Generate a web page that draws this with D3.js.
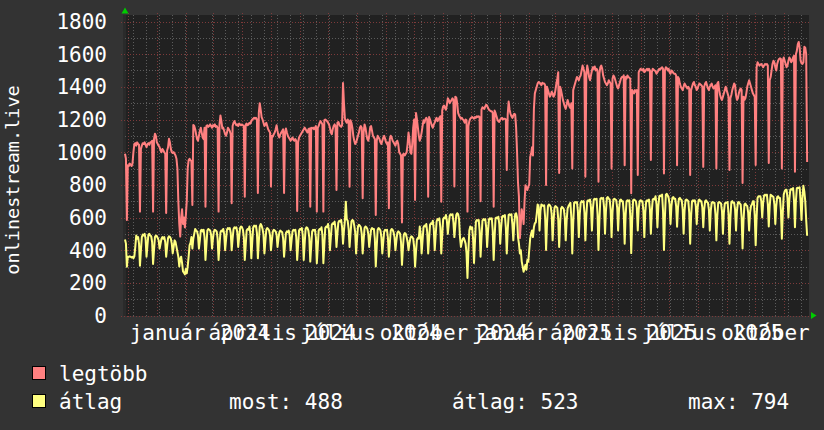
<!DOCTYPE html>
<html><head><meta charset="utf-8">
<script src="https://cdn.jsdelivr.net/npm/d3@7/dist/d3.min.js"></script>
<style>html,body{margin:0;padding:0;background:#333333;}svg{display:block;}</style>
</head><body>
<svg id="chart" width="824" height="430"></svg>
<script>
// ---- data (one value per day, starting at startDay) ----
const startDay = "2023-11-27T12:00:00";
const endDay = "2025-11-27T12:00:00";
const seriesNames = ["legtöbb", "átlag"];
const seriesColors = ["#ff8080", "#ffff80"];
const maxValues = [
990,960,585,920,915,930,925,915,930,1000,1050,1055,1040,1060,
1050,1045,636,1020,1040,1055,1050,1060,1045,1030,1050,1055,1045,1060,
1060,1070,636,1080,1113,1100,1060,1050,1040,1030,1010,1000,1020,1010,
1000,990,627,1010,1030,1082,1060,1020,1000,995,1000,990,980,960,
900,700,560,483,600,650,560,600,540,610,700,900,950,960,
950,945,677,1166,1160,1140,1110,1080,1070,1100,1130,1150,1120,1090,
1080,1150,666,1160,1165,1155,1160,1170,1160,1150,1165,1160,1170,1155,
1160,1150,636,1170,1225,1190,1145,1150,1130,1110,1100,1120,1150,1140,
1130,1110,687,1160,1180,1190,1175,1165,1170,1160,1175,1170,1165,1170,
1165,1160,727,1170,1175,1165,1170,1180,1175,1190,1200,1205,1210,1205,
1210,1200,750,1240,1300,1260,1215,1200,1180,1160,1170,1180,1160,1140,
1130,1120,790,1100,1095,1110,1120,1140,1165,1130,1100,1090,1110,1120,
1130,1140,750,1120,1145,1120,1100,1090,1080,1070,1080,1090,1075,1070,
1080,1070,640,1060,1090,1100,1110,1120,1130,1140,1150,1140,1130,1120,
1140,1145,666,1150,1145,1150,1140,1150,1160,636,1150,1160,1180,1190,
1180,1170,636,1195,1200,1195,1190,1180,1170,1150,1120,1110,1140,1160,
1170,1160,768,1180,1185,1170,1160,1155,1165,1423,1300,1205,1190,1180,
1200,1190,789,1195,1180,1150,1100,1070,1050,1060,1080,1100,1120,1150,
1160,1150,718,1120,1170,1150,1110,1080,1070,1100,1150,1160,1130,1100,
1090,1080,615,1070,1100,1090,1080,1060,1050,1070,1090,1100,1080,1060,
1050,1060,656,1080,1100,1090,1070,1060,1050,1040,1060,1070,1050,1000,
990,980,569,985,990,980,990,1000,1050,1120,1080,1000,990,1050,
1150,1200,707,1240,1200,1150,1100,1070,1090,1120,1160,1195,1180,1200,
1210,1200,727,1215,1200,1180,1160,1150,1170,1180,1200,1210,1190,1200,
1210,1220,697,1255,1280,1285,1270,1260,1290,1330,1320,1300,1310,1320,
1330,1320,790,1340,1335,1300,1240,1225,1215,1205,1210,1200,1195,1180,
1200,1195,636,1160,1190,1205,1210,1215,1210,1205,1215,1210,1220,1215,
1220,1215,700,1260,1275,1270,1265,1280,1290,1285,1270,1260,1255,1250,
1250,1240,666,1255,1240,1220,1200,1190,1185,1200,1205,1210,1200,1205,
1205,1200,891,1230,1310,1260,1235,1220,1210,1225,1235,1230,1150,1000,
816,726,474,560,650,620,560,700,798,780,768,790,800,970,
990,1030,980,1266,1360,1380,1400,1420,1430,1425,1420,1410,1425,1420,
1420,1410,799,1400,1380,1360,1340,1350,1370,1360,1340,1350,1380,1420,
1450,1490,872,1400,1380,1350,1320,1300,1280,1265,1290,1320,1300,1280,
1270,1300,900,1380,1400,1420,1440,1460,1450,1440,1460,1470,1500,1530,
1510,1490,850,1470,1530,1500,1460,1440,1470,1500,1520,1510,1525,1500,
1510,1500,819,1480,1520,1530,1510,1470,1450,1430,1420,1410,1420,1440,
1430,1420,900,1450,1470,1460,1440,1420,1400,1390,1410,1430,1450,1460,
1460,1470,920,1460,1450,1470,1460,1455,1450,748,1380,1370,1360,1380,
1370,1380,860,1490,1500,1510,1505,1500,1510,1490,1495,1505,1510,1500,
1510,1500,952,1490,1510,1505,1500,1495,1480,1490,1500,1510,1505,1515,
1520,1510,870,1500,1520,1515,1500,1510,1490,1480,1500,1495,1485,1480,
1480,1470,920,1460,1450,1420,1400,1390,1380,1400,1420,1410,1400,1390,
1400,1390,860,1380,1400,1420,1430,1410,1400,1380,1390,1410,1420,1415,
1410,1400,910,1400,1420,1430,1410,1390,1380,1400,1410,1420,1400,1390,
1400,1410,900,1420,1430,1380,1350,1330,1320,1340,1360,1380,1400,1380,
1360,1340,891,1330,1350,1380,1400,1420,1410,1350,1320,1330,1360,1380,
1390,1380,811,1340,1320,1330,1360,1400,1420,1440,1420,1400,1380,1360,
1350,1340,921,1520,1550,1540,1530,1535,1540,1530,1520,1530,1540,1535,
1540,1530,933,1440,1460,1500,1540,1560,1550,1520,1500,1540,1560,1570,
1575,1570,900,1560,1580,1560,1540,1520,1530,1560,1580,1570,1550,1560,
1580,1590,880,1600,1620,1660,1675,1640,1560,1545,1540,1550,1645,1640,
1600,940
];
const avgValues = [
465,440,299,360,358,362,360, 355,360,350,362,420,490,470,
480,440,305,400,480,495,490, 500,470,360,430,495,500,490,
485,450,315,400,480,490,485, 475,460,410,440,470,480,470,
480,450,360,420,475,485,480, 470,440,380,420,460,450,420,
390,360,300,345,360,320,270, 262,252,285,258,300,360,430,
445,480,410,470,500,530,520, 515,490,410,460,520,525,515,
525,480,340,430,520,530,525, 520,495,410,470,515,525,520,
515,470,340,430,510,520,515, 530,500,400,465,525,535,530,
535,505,400,470,530,540,535, 540,510,420,480,535,545,540,
525,480,340,430,520,530,525, 545,500,350,450,540,550,545,
550,505,350,450,545,560,550, 530,495,380,455,525,535,530,
520,490,400,460,515,525,520, 515,495,420,470,510,520,515,
510,470,360,435,505,515,510, 520,490,400,460,515,525,520,
525,480,340,430,520,530,525, 535,490,340,440,530,540,535,
520,475,330,425,515,525,520, 525,480,320,420,520,530,525,
540,490,320,430,535,545,540, 560,520,400,480,555,565,560,
575,530,420,500,570,580,575, 585,540,440,520,580,697,590,
580,530,420,500,575,585,580, 550,510,380,470,545,555,550,
540,500,380,460,535,545,540, 530,500,420,475,525,535,530,
530,470,300,420,525,535,530, 520,480,380,450,515,525,520,
525,475,360,440,520,530,525, 510,480,400,455,505,515,510,
500,450,310,410,495,505,500, 480,450,400,440,475,485,480,
470,420,299,390,465,475,470, 545,500,380,460,540,550,545,
560,510,380,470,555,565,560, 580,530,400,490,575,590,585,
595,540,380,490,590,600,595, 615,580,500,560,610,620,615,
620,570,480,550,615,626,620, 590,480,420,450,470,475,460,
440,380,230,400,520,545,530, 540,470,321,450,575,585,580,
585,520,360,480,580,590,585, 590,540,420,520,590,595,590,
595,520,340,480,595,600,595, 605,560,440,540,605,610,605,
615,540,380,520,615,620,615, 620,560,460,560,620,626,600,
480,440,380,400,330,300,268, 290,310,280,340,330,400,470,
500,520,480,540,565,570,620, 680,670,520,640,680,675,670,
675,600,401,560,670,680,675, 665,620,460,580,660,670,665,
660,590,420,560,655,665,660, 650,600,460,580,655,670,680,
690,600,380,560,690,695,690, 695,640,480,620,690,700,695,
700,630,460,610,700,705,700, 710,660,520,650,710,715,710,
715,620,401,580,715,720,715, 720,660,500,640,720,725,715,
710,650,480,630,710,715,710, 705,660,520,650,705,710,700,
700,630,440,610,700,705,700, 705,610,382,580,705,710,705,
700,660,520,650,700,705,700, 700,640,480,630,700,705,700,
710,650,500,640,710,715,710, 730,680,540,670,730,735,730,
740,640,401,600,740,745,735, 720,680,560,670,720,725,715,
715,670,544,660,715,720,710, 705,650,500,640,705,710,705,
700,630,440,610,700,705,700, 705,670,560,660,705,710,700,
700,660,540,650,700,705,695, 690,650,520,640,690,695,690,
690,620,460,610,690,695,690, 685,640,500,630,685,690,690,
695,620,440,600,695,700,690, 690,650,520,640,690,695,685,
680,600,410,580,680,685,675, 670,630,520,630,670,680,700,
700,610,430,600,720,730,730, 730,700,600,690,735,740,735,
740,680,545,670,740,735,730, 725,680,560,670,725,730,720,
720,640,470,630,740,760,770, 770,720,600,710,770,775,770,
780,700,540,700,780,782,780, 785,700,585,720,794,760,700,
585,488
];
const yTickValues = [0,200,400,600,800,1000,1200,1400,1600,1800];
const monthLabelStarts = ["2024-01-01","2024-04-01","2024-07-01","2024-10-01","2025-01-01","2025-04-01","2025-07-01","2025-10-01"];
const monthLabelNames = ["január","április","július","október","január","április","július","október"];
const yearLabelStarts = ["2024-04-01","2024-07-01","2024-10-01","2025-01-01","2025-04-01","2025-07-01","2025-10-01"];
const yearLabelTexts = ["2024","2024","2024","2024","2025","2025","2025"];
const statLabels = ["most: 488","átlag: 523","max: 794"];
const yAxisTitle = "onlinestream.live";

// ---- drawing ----
const W = 824, H = 430;
const pLeft = 125, pRight = 809, pTop = 15, pBottom = 316;
const FONT = "'DejaVu Sans Mono', monospace";
const svg = d3.select("#chart");
const t0 = new Date(startDay), t1 = new Date(endDay);
const x = d3.scaleTime().domain([t0, t1]).range([pLeft, pRight]);
const y = d3.scaleLinear().domain([0, 1800]).range([315.5, 21.5]);
const dates = maxValues.map((_, i) => d3.timeDay.offset(t0, i));

svg.append("rect").attr("width", W).attr("height", H).attr("fill", "#333333");
svg.append("rect").attr("x", pLeft).attr("y", pTop).attr("width", pRight - pLeft).attr("height", pBottom - pTop).attr("fill", "#212121");
svg.append("rect").attr("x", 123).attr("y", pTop).attr("width", 3).attr("height", pBottom - pTop).attr("fill", "#2a2a2a");

const grid = svg.append("g").attr("shape-rendering", "crispEdges");
d3.range(100, 1800, 200).forEach(v => {
  const py = Math.round(y(v)) + 0.5;
  grid.append("line").attr("x1", pLeft).attr("x2", pRight).attr("y1", py).attr("y2", py)
    .attr("stroke", "#5c5c5c").attr("stroke-dasharray", "1,2");
});
const minorV = [];
for (let t = new Date(2023, 11, 6); t < t1; t = d3.timeDay.offset(t, 14)) minorV.push(t);
minorV.forEach(t => {
  const px = Math.round(x(t)) + 0.5;
  grid.append("line").attr("x1", px).attr("x2", px).attr("y1", pTop).attr("y2", 318)
    .attr("stroke", "#5c5c5c").attr("stroke-dasharray", "1,2");
});
d3.timeMonth.range(t0, t1).forEach(t => {
  const px = Math.round(x(t)) + 0.5;
  grid.append("line").attr("x1", px).attr("x2", px).attr("y1", 13).attr("y2", 319)
    .attr("stroke", "#7d3a3a").attr("stroke-dasharray", "1,2");
});
yTickValues.forEach(v => {
  const py = Math.round(y(v)) + 0.5;
  grid.append("line").attr("x1", 121).attr("x2", pRight).attr("y1", py).attr("y2", py)
    .attr("stroke", "#7d3a3a").attr("stroke-dasharray", "1,2");
});

svg.append("g").selectAll("text").data(yTickValues).join("text")
  .attr("x", 107).attr("y", d => y(d) + 7.6).attr("text-anchor", "end")
  .attr("fill", "#ffffff").attr("font-family", FONT).attr("font-size", 21).text(d => d);

svg.append("text").attr("transform", "translate(18.5,180) rotate(-90)")
  .attr("text-anchor", "middle").attr("fill", "#ffffff").attr("font-family", FONT)
  .attr("font-size", 18.5).text(yAxisTitle);

const xl = svg.append("g").attr("fill", "#ffffff").attr("font-family", FONT).attr("font-size", 21).attr("text-anchor", "middle");
monthLabelStarts.forEach((s, i) => {
  xl.append("text").attr("x", x(d3.timeDay.offset(new Date(s + "T00:00:00"), 11))).attr("y", 340).text(monthLabelNames[i]);
});
yearLabelStarts.forEach((s, i) => {
  xl.append("text").attr("x", x(d3.timeDay.offset(new Date(s + "T00:00:00"), 3))).attr("y", 340).text(yearLabelTexts[i]);
});

const line = d3.line().x((d, i) => x(dates[i])).y(d => y(d)).curve(d3.curveLinear);
[maxValues, avgValues].forEach((vals, si) => {
  svg.append("path").datum(vals).attr("d", line).attr("fill", "none")
    .attr("stroke", seriesColors[si]).attr("stroke-width", 2).attr("stroke-linejoin", "round");
});

svg.append("path").attr("d", "M121.5,13.5 L128.5,13.5 L125,7.5 Z").attr("fill", "#00cc00");
svg.append("path").attr("d", "M811,312 L811,319 L816.5,315.5 Z").attr("fill", "#00cc00");

const lg = svg.append("g").attr("font-family", FONT).attr("font-size", 21).attr("fill", "#ffffff");
seriesNames.forEach((n, i) => {
  const by = 366.5 + i * 28;
  lg.append("rect").attr("x", 32.5).attr("y", by).attr("width", 13).attr("height", 13)
    .attr("fill", seriesColors[i]).attr("stroke", "#000").attr("stroke-width", 1);
  lg.append("text").attr("x", 59).attr("y", 381 + i * 28).text(n);
});
const statX = [229, 452, 688];
statLabels.forEach((s, i) => lg.append("text").attr("x", statX[i]).attr("y", 409).text(s));
</script>
</body></html>
